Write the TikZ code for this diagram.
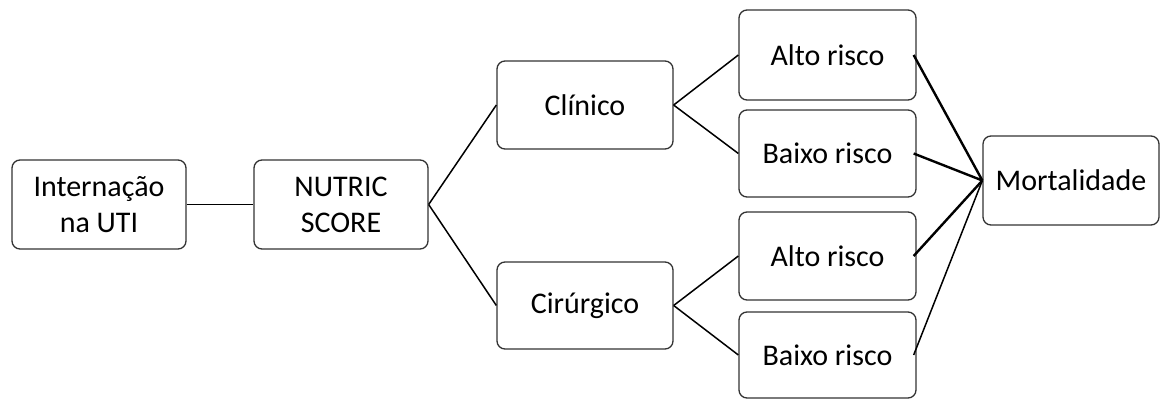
\documentclass[tikz,border=0pt]{standalone}
\usepackage{fontspec}
\setmainfont{Carlito}
\begin{document}
\begin{tikzpicture}[x=1pt,y=-1pt,
  box/.style={draw=black!80, line width=1.3pt, rounded corners=8pt, inner sep=0pt,
    minimum width=176pt, minimum height=88pt, align=center,
    font=\fontsize{30}{36}\selectfont},
  thin/.style={draw=black, line width=1.5pt},
  thick/.style={draw=black, line width=2.4pt}]
\useasboundingbox (0,0) rectangle (1162,399);
\node[box, minimum width=174pt, minimum height=89pt] (int) at (99,204.5) {Internação\\na UTI};
\node[box, minimum width=174pt, minimum height=89pt] (nut) at (341,204.5) {NUTRIC\\SCORE};
\node[box] (cli) at (585,105) {Clínico};
\node[box, minimum height=87pt] (cir) at (585,305.5) {Cirúrgico};
\node[box, minimum width=177pt, minimum height=90pt] (at) at (827.5,55) {Alto risco};
\node[box, minimum width=177pt, minimum height=87pt] (bt) at (827.5,153.5) {Baixo risco};
\node[box, minimum width=177pt, minimum height=88pt] (ab) at (827.5,256) {Alto risco};
\node[box, minimum width=177pt, minimum height=86pt] (bb) at (827.5,355) {Baixo risco};
\node[box, minimum width=176pt, minimum height=89pt] (mort) at (1071,180.5) {Mortalidade};
\draw[thin] (int.east) -- (nut.west);
\draw[thin] (nut.east) -- (cli.west);
\draw[thin] (nut.east) -- (cir.west);
\draw[thin] (cli.east) -- (at.west);
\draw[thin] (cli.east) -- (bt.west);
\draw[thin] (cir.east) -- (ab.west);
\draw[thin] (cir.east) -- (bb.west);
\draw[thick] ([xshift=-3pt]at.east) -- (mort.west);
\draw[thick] ([xshift=-3pt]bt.east) -- (mort.west);
\draw[thick] ([xshift=-3pt]ab.east) -- (mort.west);
\draw[thin] ([xshift=-3pt]bb.east) -- (mort.west);
\end{tikzpicture}
\end{document}
